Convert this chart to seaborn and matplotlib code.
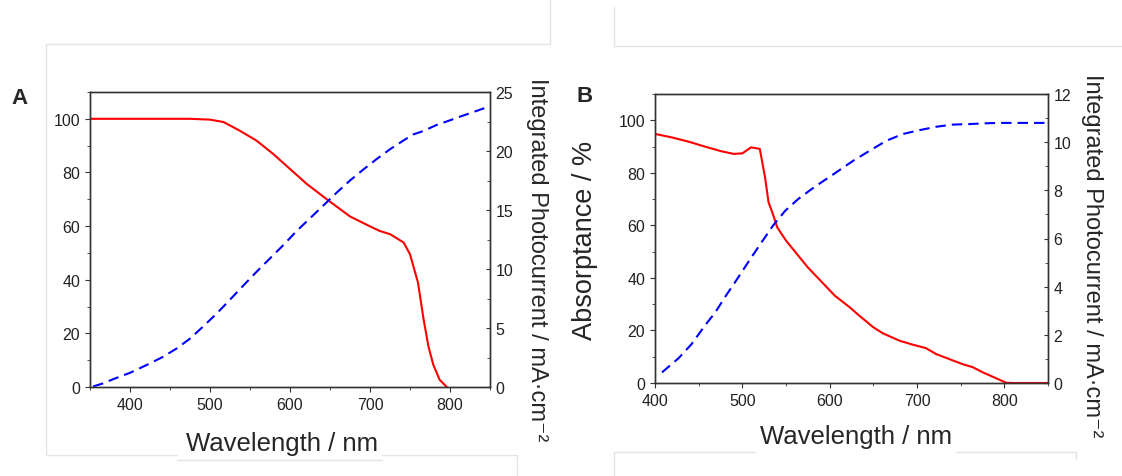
import numpy as np
import pandas as pd
import seaborn as sns
import matplotlib
matplotlib.use("Agg")
import matplotlib.pyplot as plt
from matplotlib.ticker import MultipleLocator
from matplotlib.lines import Line2D

# Panel A: absorptance (%) and integrated photocurrent (mA cm^-2)
wl_abs_a = [350, 400, 454, 475, 500, 517, 537, 558, 579, 600, 621, 646, 675, 700,
            712, 725, 742, 750, 760, 767, 773, 779, 787, 796]
abs_a = [100, 100, 100, 100, 99.7, 98.8, 95.6, 91.9, 86.9, 81.3, 75.7, 70.0, 63.6, 59.9,
         58.2, 57.0, 53.9, 49.5, 38.9, 25.2, 15.2, 8.4, 2.7, 0.0]
wl_jsc_a = [354, 366, 383, 400, 425, 441, 458, 475, 491, 508, 525, 541, 558, 575, 592, 608,
            625, 642, 658, 675, 692, 708, 725, 742, 754, 767, 783, 800, 812, 825, 850]
jsc_a = [0.05, 0.3, 0.77, 1.2, 2.0, 2.55, 3.25, 4.1, 5.1, 6.2, 7.4, 8.55, 9.75, 10.9, 12.05, 13.2,
         14.3, 15.4, 16.45, 17.5, 18.45, 19.3, 20.15, 20.9, 21.4, 21.7, 22.2, 22.6, 22.9, 23.2, 23.8]

# Panel B
wl_abs_b = [399, 400, 419, 438, 457, 476, 490, 500, 510, 520, 526, 530, 535, 540, 550, 575,
            606, 623, 634, 650, 661, 680, 695, 710, 722, 737, 752, 764, 775, 790, 802, 810, 850]
abs_b = [86, 94.8, 93.5, 91.9, 90.0, 88.2, 87.2, 87.4, 89.7, 89.1, 78.3, 68.8, 64.3, 59.2, 54.2, 44.0,
         33.2, 28.8, 25.6, 21.2, 18.9, 16.1, 14.6, 13.3, 11.0, 9.1, 7.2, 6.0, 4.1, 1.9, 0.1, 0.0, 0.0]
wl_jsc_b = [408, 427, 442, 457, 469, 480, 491, 501, 510, 522, 535, 549, 564, 583, 602, 627,
            646, 665, 684, 703, 722, 741, 760, 775, 794, 813, 850]
jsc_b = [0.44, 1.03, 1.62, 2.38, 2.93, 3.56, 4.15, 4.7, 5.2, 5.84, 6.53, 7.15, 7.64, 8.15, 8.61, 9.23,
         9.65, 10.06, 10.34, 10.5, 10.64, 10.73, 10.75, 10.78, 10.8, 10.8, 10.8]

right_label = 'Integrated Photocurrent / mA·cm⁻²'

sns.set_style("ticks")
plt.rcParams['font.family'] = ['Liberation Sans', 'DejaVu Sans']
plt.rcParams['axes.edgecolor'] = '#333333'
plt.rcParams['axes.linewidth'] = 1.0

W, H = 1122, 477
fig = plt.figure(figsize=(W / 100, H / 100), dpi=100)


def px_axes(x0, y0, x1, y1):
    return fig.add_axes([x0 / W, 1 - y1 / H, (x1 - x0) / W, (y1 - y0) / H])


def style_panel(ax, ax2, xlim, r_top, r_maj, r_min):
    ax.set_xlim(*xlim)
    ax.set_ylim(0, 110)
    ax2.set_ylim(0, r_top)
    ax.xaxis.set_major_locator(MultipleLocator(100))
    ax.xaxis.set_minor_locator(MultipleLocator(50))
    ax.yaxis.set_major_locator(MultipleLocator(20))
    ax.yaxis.set_minor_locator(MultipleLocator(10))
    ax2.yaxis.set_major_locator(MultipleLocator(r_maj))
    ax2.yaxis.set_minor_locator(MultipleLocator(r_min))
    ax.tick_params(axis='both', which='both', direction='out', labelsize=11.5,
                   colors='#333333', labelcolor='#222222', top=False)
    ax.tick_params(which='major', length=3.6)
    ax.tick_params(which='minor', length=2.4)
    ax2.tick_params(axis='y', which='both', direction='in', labelsize=11.5,
                    colors='#333333', labelcolor='#222222', pad=4)
    ax2.tick_params(which='major', length=3.2)
    ax2.tick_params(which='minor', length=2.4)
    for a in (ax, ax2):
        for s in a.spines.values():
            s.set_visible(True)
            s.set_color('#333333')


def draw_lines(ax, ax2, wl_abs, absorb, wl_jsc, jsc):
    sns.lineplot(x=wl_abs, y=absorb, ax=ax, color='#ff0000', linewidth=1.5, sort=False)
    sns.lineplot(x=wl_jsc, y=jsc, ax=ax2, color='#0000ff', linewidth=1.5,
                 linestyle=(0, (5.0, 2.9)), sort=False)


# Panel A
axA = px_axes(90, 93, 490, 388)
axA2 = axA.twinx()
draw_lines(axA, axA2, wl_abs_a, abs_a, wl_jsc_a, jsc_a)
style_panel(axA, axA2, (350, 850), 25, 5, 2.5)
axA.set_ylabel('')
axA.set_xlabel('Wavelength / nm', fontsize=18.5, va='center', ha='center')
axA.xaxis.set_label_coords(0.48, -0.19)
axA2.set_ylabel(right_label, fontsize=17, rotation=270, va='center', ha='center')
axA2.yaxis.set_label_coords(1.118, 0.434)
fig.text(20 / W, 1 - 98 / H, 'A', fontsize=16, fontweight='bold', ha='center', va='center')

# Panel B
axB = px_axes(655, 95, 1048, 384)
axB2 = axB.twinx()
draw_lines(axB, axB2, wl_abs_b, abs_b, wl_jsc_b, jsc_b)
style_panel(axB, axB2, (400, 850), 12, 2, 1)
axB.set_xlabel('Wavelength / nm', fontsize=18.5, va='center', ha='center')
axB.xaxis.set_label_coords(0.511, -0.183)
axB.set_ylabel('Absorptance / %', fontsize=19.5, va='center', ha='center')
axB.yaxis.set_label_coords(-0.178, 0.498)
axB2.set_ylabel(right_label, fontsize=17, rotation=270, va='center', ha='center')
axB2.yaxis.set_label_coords(1.112, 0.443)
fig.text(585 / W, 1 - 97 / H, 'B', fontsize=16, fontweight='bold', ha='center', va='center')

# faint frame lines from the source layout
frame_segments = [
    ((46, 45), (46, 456)), ((46, 45), (550, 45)), ((550, 0), (550, 45)),
    ((46, 456), (177, 456)), ((177, 461), (382, 461)), ((382, 456), (517, 456)),
    ((517, 456), (517, 477)),
    ((614, 8), (614, 47)), ((614, 47), (1122, 47)),
    ((614, 453), (755, 453)), ((956, 453), (1076, 453)), ((1076, 453), (1076, 460)),
    ((614, 453), (614, 477)),
]
for (x0, y0), (x1, y1) in frame_segments:
    fig.add_artist(Line2D([x0 / W, x1 / W], [1 - y0 / H, 1 - y1 / H],
                          transform=fig.transFigure, color='#e4e4e4', linewidth=1, zorder=0))

fig.savefig('out.png', dpi=100, facecolor='white')
